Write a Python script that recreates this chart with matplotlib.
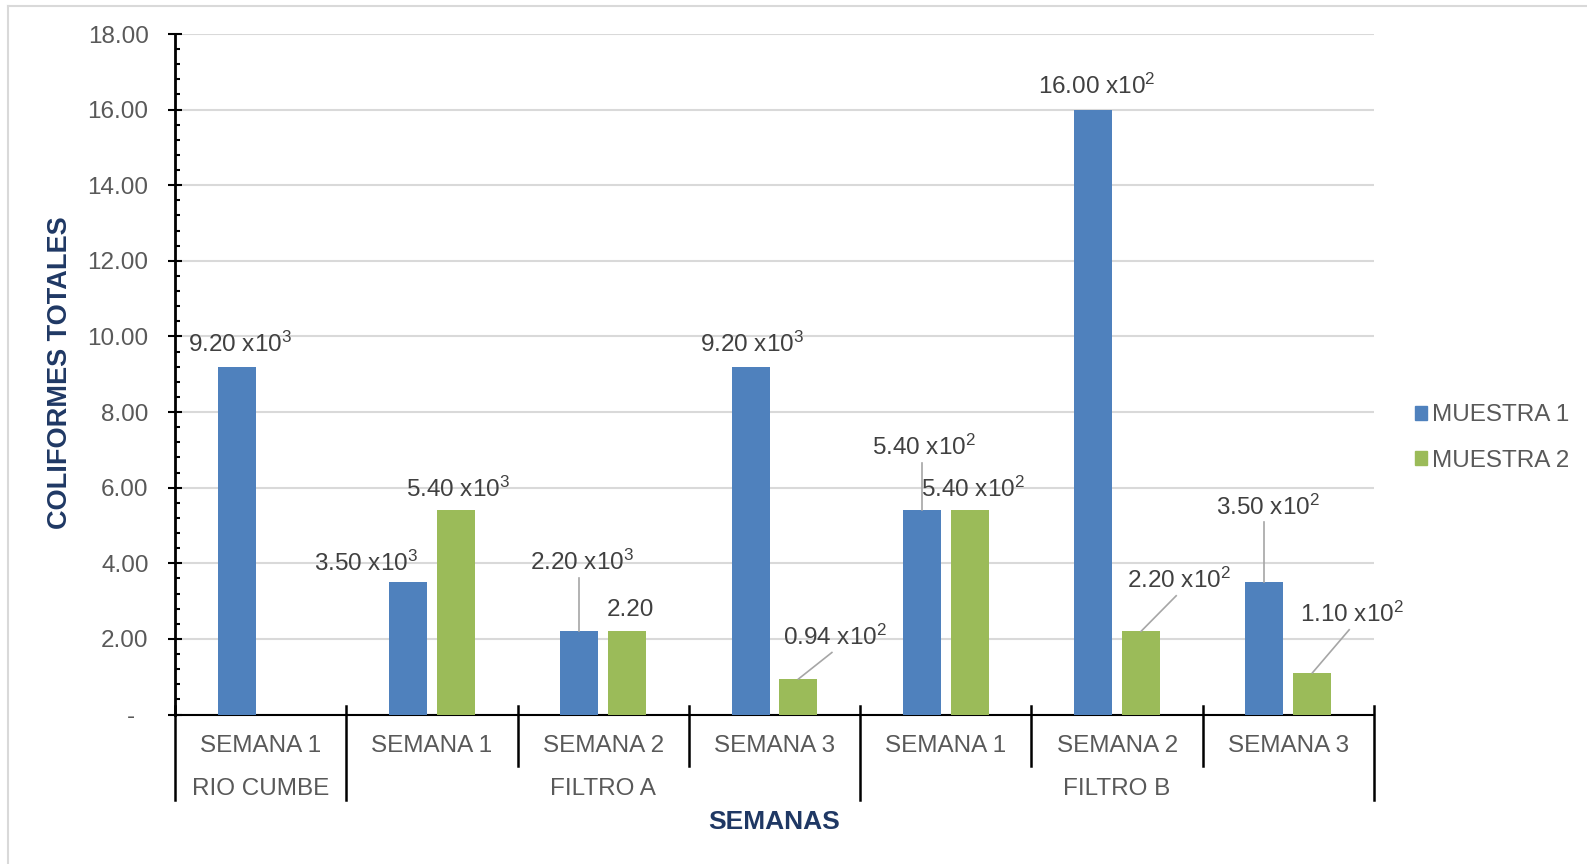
import numpy as np
import matplotlib
matplotlib.use("Agg")
from matplotlib import pyplot as plt
from matplotlib.lines import Line2D
from matplotlib.patches import Patch

plt.rcParams['font.family'] = ['Liberation Sans', 'DejaVu Sans']
plt.rcParams['mathtext.fontset'] = 'custom'
plt.rcParams['mathtext.rm'] = 'Liberation Sans'
plt.rcParams['mathtext.it'] = 'Liberation Sans'
plt.rcParams['mathtext.default'] = 'rm'

# categories on the x axis
semanas = ["SEMANA 1", "SEMANA 1", "SEMANA 2", "SEMANA 3", "SEMANA 1", "SEMANA 2", "SEMANA 3"]
grupos = ["RIO CUMBE", "FILTRO A", "FILTRO B"]
grupo_span = [(0, 1), (1, 4), (4, 7)]

# coliformes totales (mantissa) and the power of ten shown in the label
muestra1 = [9.20, 3.50, 2.20, 9.20, 5.40, 16.00, 3.50]
muestra2 = [np.nan, 5.40, 2.20, 0.94, 5.40, 2.20, 1.10]
exp1 = [3, 3, 3, 3, 2, 2, 2]
exp2 = [None, 3, None, 2, 2, 2, 2]

# label offsets from bar top (dx, dy), and whether a leader line is drawn
off1 = [(0.02, 0.6), (-0.245, 0.5), (0.016, 1.82), (0.01, 0.6), (0.01, 1.66), (0.02, 0.62), (0.02, 1.98)]
lead1 = [False, False, True, False, True, False, True]
off2 = [None, (0.01, 0.56), (0.02, 0.56), (0.21, 1.1), (0.02, 0.56), (0.22, 1.34), (0.23, 1.54)]
lead2 = [False, False, False, True, False, True, True]

blue = '#4F81BD'
green = '#9BBB59'
txt = '#595959'
lbl = '#404040'
navy = '#1F3864'
fs = 17.5

W, H = 1587, 864
fig = plt.figure(figsize=(W / 100, H / 100), dpi=100)
ax = fig.add_axes([175 / W, 1 - 714.5 / H, (1374 - 175) / W, (714.5 - 34) / H])

x = np.arange(len(semanas))
bw = 0.222
sh = 0.14
ax.bar(x - sh, muestra1, bw, color=blue, zorder=3)
ax.bar(x + sh, muestra2, bw, color=green, zorder=3)

ax.set_xlim(-0.5, len(semanas) - 0.5)
ax.set_ylim(0, 18)
ax.set_yticks(np.arange(0, 18.1, 2))
ax.set_yticks(np.arange(0, 18.1, 0.4), minor=True)
ax.set_yticklabels(["-  "] + ["%.2f" % v for v in np.arange(2, 18.1, 2)])
ax.yaxis.grid(True, color='#D9D9D9', lw=1.5, zorder=0)
ax.set_xticks([])
ax.tick_params(axis='y', which='major', direction='inout', length=10, width=1.5,
               pad=14, labelsize=fs, labelcolor=txt, color='black')
ax.tick_params(axis='y', which='minor', direction='in', length=3.8, width=1.5, color='black')
for s in ['top', 'right']:
    ax.spines[s].set_visible(False)
ax.spines['left'].set_linewidth(2)
ax.spines['bottom'].set_linewidth(1.5)

# data labels
def draw_label(xc, val, e, off, lead):
    tx, ty = xc + off[0], val + off[1]
    s = "%.2f" % val
    if e is not None:
        s += " x10$^{%d}$" % e
    ax.text(tx, ty, s, ha='center', va='center', fontsize=fs, color=lbl, zorder=5)
    if lead:
        ax.plot([tx - 0.015 if off[0] > 0.1 else xc, xc], [ty - 0.4, val],
                color='#A6A6A6', lw=1.2, zorder=4)

for i in range(len(semanas)):
    draw_label(x[i] - sh, muestra1[i], exp1[i], off1[i], lead1[i])
    if not np.isnan(muestra2[i]):
        draw_label(x[i] + sh, muestra2[i], exp2[i], off2[i], lead2[i])

# category and group labels below the axis
tr = ax.get_xaxis_transform()
for i, s in enumerate(semanas):
    ax.text(x[i], -0.047, s, transform=tr, ha='center', va='center', fontsize=fs, color=txt)
for g, (a, b) in zip(grupos, grupo_span):
    ax.text((a + b - 1) / 2, -0.109, g, transform=tr, ha='center', va='center', fontsize=fs, color=txt)

outer = set(a - 0.5 for a, b in grupo_span) | {len(semanas) - 0.5}
for k in range(len(semanas) + 1):
    xb = k - 0.5
    bot = -0.125 if xb in outer else -0.076
    ax.add_line(Line2D([xb, xb], [0.012, bot], transform=tr, color='black', lw=1.8, clip_on=False))

fig.text(60 / W, 1 - 373 / H, "COLIFORMES TOTALES", rotation=90, ha='center', va='center',
         fontsize=19.5, fontweight='bold', color=navy)
fig.text(774 / W, 1 - 822 / H, "SEMANAS", ha='center', va='center', fontsize=19,
         fontweight='bold', color=navy)

handles = [Patch(color=blue, label='MUESTRA 1'), Patch(color=green, label='MUESTRA 2')]
fig.legend(handles=handles, loc='center left', bbox_to_anchor=(1393 / W, 1 - 438 / H),
           frameon=False, fontsize=fs, labelcolor=txt, handlelength=0.5, handleheight=0.5,
           handletextpad=0.2, labelspacing=0.95)

# outer chart frame
fig.add_artist(Line2D([8 / W, 8 / W], [0, 1 - 6 / H], transform=fig.transFigure, color='#D9D9D9', lw=1.5))
fig.add_artist(Line2D([8 / W, 1], [1 - 6 / H, 1 - 6 / H], transform=fig.transFigure, color='#D9D9D9', lw=1.5))

plt.savefig("out.png", dpi=100)
